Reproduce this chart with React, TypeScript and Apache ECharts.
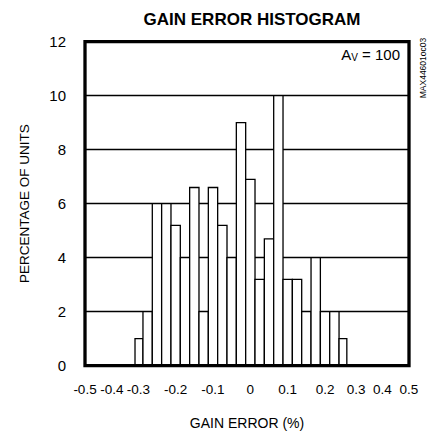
import React, { useEffect, useRef } from "react";
import * as echarts from "echarts";

// Bin centers of the histogram (gain error, %), bin width 0.025
const BIN_CENTERS = [
  -0.3, -0.275, -0.25, -0.225, -0.2, -0.175, -0.15, -0.125, -0.1, -0.075, -0.05, -0.025,
  0, 0.025, 0.05, 0.075, 0.1, 0.125, 0.15, 0.175, 0.2, 0.225, 0.25,
];
// Percentage of units per bin
const PERCENTAGES = [
  1, 2, 6, 6, 5.2, 4, 6.6, 2, 6.6, 5.2, 4, 9, 6.9, 3.2, 4.7, 10, 3.2, 3.2, 2, 4, 2, 2, 1,
];
const BIN_WIDTH = 0.025;

// X tick labels (the original axis is not linear at its ends)
const X_TICK_VALUES = [-0.5, -0.4, -0.3, -0.2, -0.1, 0, 0.1, 0.2, 0.3, 0.4, 0.5];
const X_TICK_LABELS = ["-0.5", "-0.4", "-0.3", "-0.2", "-0.1", "0", "0.1", "0.2", "0.3", "0.4", "0.5"];

// Piecewise-linear axis scale: gain error value -> fraction of axis length
const SCALE_VALUES = [-0.5, -0.4, -0.3, 0.25, 0.3, 0.4, 0.5];
const SCALE_FRACTIONS = [0, 0.0833, 0.1645, 0.7985, 0.837, 0.918, 1];

const Y_MIN = 0;
const Y_MAX = 12;
const Y_INTERVAL = 2;

function scaleX(v: number): number {
  for (let i = 0; i < SCALE_VALUES.length - 1; i++) {
    const a = SCALE_VALUES[i];
    const b = SCALE_VALUES[i + 1];
    if (v <= b || i === SCALE_VALUES.length - 2) {
      const t = (v - a) / (b - a);
      return SCALE_FRACTIONS[i] + t * (SCALE_FRACTIONS[i + 1] - SCALE_FRACTIONS[i]);
    }
  }
  return 0;
}

const FONT = "'Liberation Sans', Arial, sans-serif";

export default function App() {
  const ref = useRef<HTMLDivElement>(null);

  useEffect(() => {
    if (!ref.current) return;
    const chart = echarts.init(ref.current, null, { renderer: "svg" });
    const tickPositions = X_TICK_VALUES.map(scaleX);
    const data = BIN_CENTERS.map((c, i) => [c, PERCENTAGES[i]]);

    chart.setOption({
      animation: false,
      backgroundColor: "#fff",
      textStyle: { fontFamily: FONT },
      title: {
        text: "GAIN ERROR HISTOGRAM",
        left: 247,
        top: 6,
        textAlign: "center",
        textStyle: { fontFamily: FONT, fontWeight: "bold", fontSize: 17, color: "#000" },
      },
      grid: {
        left: 85,
        right: 20,
        top: 41.7,
        bottom: 73.3,
        show: true,
        z: 10,
        borderColor: "#000",
        borderWidth: 3.3,
        backgroundColor: "transparent",
        outerBoundsMode: "none",
      },
      xAxis: {
        type: "value",
        min: 0,
        max: 1,
        name: "GAIN ERROR (%)",
        nameLocation: "middle",
        nameGap: 50,
        nameTextStyle: { fontFamily: FONT, fontSize: 14, color: "#000" },
        axisLine: { show: false },
        axisTick: { show: false },
        splitLine: { show: false },
        axisLabel: {
          customValues: tickPositions,
          showMinLabel: true,
          showMaxLabel: true,
          hideOverlap: false,
          margin: 17,
          fontFamily: FONT,
          fontSize: 13.5,
          color: "#000",
          formatter: (val: number) => {
            let best = 0;
            for (let i = 1; i < tickPositions.length; i++) {
              if (Math.abs(tickPositions[i] - val) < Math.abs(tickPositions[best] - val)) best = i;
            }
            return X_TICK_LABELS[best];
          },
        },
      },
      yAxis: {
        type: "value",
        min: Y_MIN,
        max: Y_MAX,
        interval: Y_INTERVAL,
        name: "PERCENTAGE OF UNITS",
        nameLocation: "middle",
        nameGap: 54,
        nameTextStyle: { fontFamily: FONT, fontSize: 13.5, color: "#000" },
        axisLine: { show: false },
        axisTick: { show: false },
        axisLabel: { margin: 19, fontFamily: FONT, fontSize: 15, color: "#000" },
        splitLine: { show: true, lineStyle: { color: "#000", width: 1.3 } },
      },
      series: [
        {
          type: "custom",
          data,
          encode: { x: 0, y: 1 },
          z: 3,
          renderItem: (params: any, api: any) => {
            const c = api.value(0);
            const p = api.value(1);
            const tl = api.coord([scaleX(c - BIN_WIDTH / 2), p]);
            const br = api.coord([scaleX(c + BIN_WIDTH / 2), 0]);
            return {
              type: "rect",
              shape: { x: tl[0], y: tl[1], width: br[0] - tl[0], height: br[1] - tl[1] },
              style: { fill: "#fff", stroke: "#000", lineWidth: 1.3 },
            };
          },
        },
      ],
      graphic: [
        {
          type: "text",
          right: 29,
          top: 47,
          style: {
            text: "{a|A}{s|V}{a| = 100}",
            rich: {
              a: { fontFamily: FONT, fontSize: 15, fill: "#000", verticalAlign: "bottom" },
              s: { fontFamily: FONT, fontSize: 10, fill: "#000", padding: [6, 0, 0, 0] },
            },
          },
          z: 20,
        },
        {
          type: "text",
          x: 423,
          y: 68,
          rotation: Math.PI / 2,
          style: {
            text: "MAX44601oc03",
            fontFamily: FONT,
            fontSize: 8.5,
            fill: "#000",
            align: "center",
            verticalAlign: "middle",
          },
          z: 20,
        },
      ],
    });

    return () => chart.dispose();
  }, []);

  return <div ref={ref} style={{ width: 429, height: 439, position: "absolute", left: 0, top: 0 }} />;
}
